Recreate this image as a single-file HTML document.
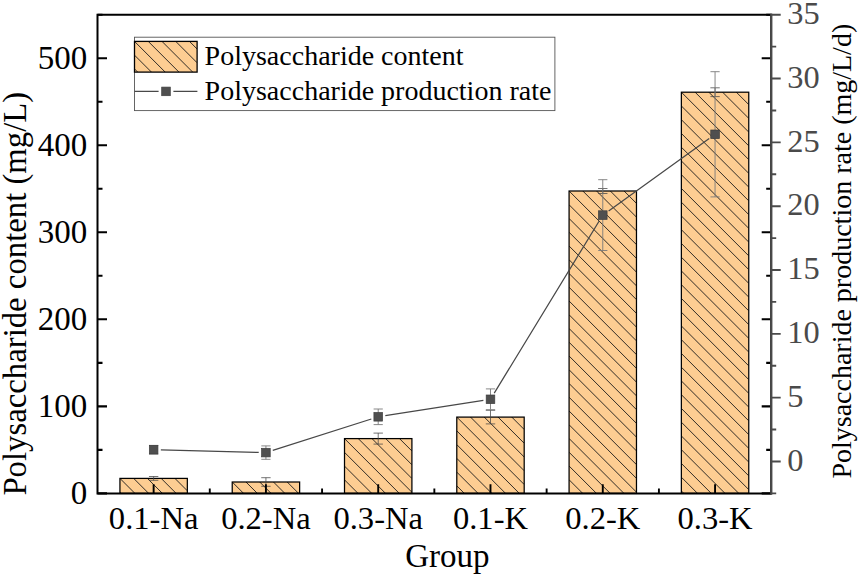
<!DOCTYPE html>
<html><head><meta charset="utf-8"><title>Chart</title>
<style>html,body{margin:0;padding:0;background:#fff;}body{width:860px;height:577px;overflow:hidden;font-family:"Liberation Serif",serif;}</style></head>
<body>
<svg width="860" height="577" viewBox="0 0 860 577" style="display:block;font-family:'Liberation Serif',serif">
<rect width="860" height="577" fill="#fff"/>
<defs>
<clipPath id="c0"><rect x="119.94" y="478.40" width="67.40" height="15.00"/></clipPath>
<clipPath id="c1"><rect x="232.23" y="482.00" width="67.40" height="11.40"/></clipPath>
<clipPath id="c2"><rect x="344.51" y="438.60" width="67.40" height="54.80"/></clipPath>
<clipPath id="c3"><rect x="456.79" y="417.10" width="67.40" height="76.30"/></clipPath>
<clipPath id="c4"><rect x="569.08" y="191.00" width="67.40" height="302.40"/></clipPath>
<clipPath id="c5"><rect x="681.36" y="92.20" width="67.40" height="401.20"/></clipPath>
<clipPath id="cl"><rect x="134.5" y="41.4" width="62.6" height="30.7"/></clipPath>
</defs>
<rect x="119.94" y="478.40" width="67.40" height="15.00" fill="#FDCD92"/>
<path d="M119.94 409.65L187.34 477.05M119.94 423.40L187.34 490.80M119.94 437.15L187.34 504.55M119.94 450.90L187.34 518.30M119.94 464.65L187.34 532.05M119.94 478.40L187.34 545.80M119.94 492.15L187.34 559.55M119.94 505.90L187.34 573.30" stroke="#1a1a1a" stroke-width="0.9" fill="none" clip-path="url(#c0)"/>
<rect x="119.94" y="478.40" width="67.40" height="15.00" fill="none" stroke="#000" stroke-width="1.25"/>
<rect x="232.23" y="482.00" width="67.40" height="11.40" fill="#FDCD92"/>
<path d="M232.23 413.25L299.62 480.65M232.23 427.00L299.62 494.40M232.23 440.75L299.62 508.15M232.23 454.50L299.62 521.90M232.23 468.25L299.62 535.65M232.23 482.00L299.62 549.40M232.23 495.75L299.62 563.15" stroke="#1a1a1a" stroke-width="0.9" fill="none" clip-path="url(#c1)"/>
<rect x="232.23" y="482.00" width="67.40" height="11.40" fill="none" stroke="#000" stroke-width="1.25"/>
<rect x="344.51" y="438.60" width="67.40" height="54.80" fill="#FDCD92"/>
<path d="M344.51 369.85L411.91 437.25M344.51 383.60L411.91 451.00M344.51 397.35L411.91 464.75M344.51 411.10L411.91 478.50M344.51 424.85L411.91 492.25M344.51 438.60L411.91 506.00M344.51 452.35L411.91 519.75M344.51 466.10L411.91 533.50M344.51 479.85L411.91 547.25M344.51 493.60L411.91 561.00" stroke="#1a1a1a" stroke-width="0.9" fill="none" clip-path="url(#c2)"/>
<rect x="344.51" y="438.60" width="67.40" height="54.80" fill="none" stroke="#000" stroke-width="1.25"/>
<rect x="456.79" y="417.10" width="67.40" height="76.30" fill="#FDCD92"/>
<path d="M456.79 348.35L524.19 415.75M456.79 362.10L524.19 429.50M456.79 375.85L524.19 443.25M456.79 389.60L524.19 457.00M456.79 403.35L524.19 470.75M456.79 417.10L524.19 484.50M456.79 430.85L524.19 498.25M456.79 444.60L524.19 512.00M456.79 458.35L524.19 525.75M456.79 472.10L524.19 539.50M456.79 485.85L524.19 553.25M456.79 499.60L524.19 567.00" stroke="#1a1a1a" stroke-width="0.9" fill="none" clip-path="url(#c3)"/>
<rect x="456.79" y="417.10" width="67.40" height="76.30" fill="none" stroke="#000" stroke-width="1.25"/>
<rect x="569.08" y="191.00" width="67.40" height="302.40" fill="#FDCD92"/>
<path d="M569.08 122.25L636.48 189.65M569.08 136.00L636.48 203.40M569.08 149.75L636.48 217.15M569.08 163.50L636.48 230.90M569.08 177.25L636.48 244.65M569.08 191.00L636.48 258.40M569.08 204.75L636.48 272.15M569.08 218.50L636.48 285.90M569.08 232.25L636.48 299.65M569.08 246.00L636.48 313.40M569.08 259.75L636.48 327.15M569.08 273.50L636.48 340.90M569.08 287.25L636.48 354.65M569.08 301.00L636.48 368.40M569.08 314.75L636.48 382.15M569.08 328.50L636.48 395.90M569.08 342.25L636.48 409.65M569.08 356.00L636.48 423.40M569.08 369.75L636.48 437.15M569.08 383.50L636.48 450.90M569.08 397.25L636.48 464.65M569.08 411.00L636.48 478.40M569.08 424.75L636.48 492.15M569.08 438.50L636.48 505.90M569.08 452.25L636.48 519.65M569.08 466.00L636.48 533.40M569.08 479.75L636.48 547.15M569.08 493.50L636.48 560.90" stroke="#1a1a1a" stroke-width="0.9" fill="none" clip-path="url(#c4)"/>
<rect x="569.08" y="191.00" width="67.40" height="302.40" fill="none" stroke="#000" stroke-width="1.25"/>
<rect x="681.36" y="92.20" width="67.40" height="401.20" fill="#FDCD92"/>
<path d="M681.36 23.45L748.76 90.85M681.36 37.20L748.76 104.60M681.36 50.95L748.76 118.35M681.36 64.70L748.76 132.10M681.36 78.45L748.76 145.85M681.36 92.20L748.76 159.60M681.36 105.95L748.76 173.35M681.36 119.70L748.76 187.10M681.36 133.45L748.76 200.85M681.36 147.20L748.76 214.60M681.36 160.95L748.76 228.35M681.36 174.70L748.76 242.10M681.36 188.45L748.76 255.85M681.36 202.20L748.76 269.60M681.36 215.95L748.76 283.35M681.36 229.70L748.76 297.10M681.36 243.45L748.76 310.85M681.36 257.20L748.76 324.60M681.36 270.95L748.76 338.35M681.36 284.70L748.76 352.10M681.36 298.45L748.76 365.85M681.36 312.20L748.76 379.60M681.36 325.95L748.76 393.35M681.36 339.70L748.76 407.10M681.36 353.45L748.76 420.85M681.36 367.20L748.76 434.60M681.36 380.95L748.76 448.35M681.36 394.70L748.76 462.10M681.36 408.45L748.76 475.85M681.36 422.20L748.76 489.60M681.36 435.95L748.76 503.35M681.36 449.70L748.76 517.10M681.36 463.45L748.76 530.85M681.36 477.20L748.76 544.60M681.36 490.95L748.76 558.35M681.36 504.70L748.76 572.10" stroke="#1a1a1a" stroke-width="0.9" fill="none" clip-path="url(#c5)"/>
<rect x="681.36" y="92.20" width="67.40" height="401.20" fill="none" stroke="#000" stroke-width="1.25"/>
<path d="M153.64 476.50V480.30M148.94 476.50h9.4M148.94 480.30h9.4" stroke="#444" stroke-width="0.75" fill="none"/>
<path d="M265.93 477.70V486.30M261.23 477.70h9.4M261.23 486.30h9.4" stroke="#444" stroke-width="0.75" fill="none"/>
<path d="M378.21 433.10V444.10M373.51 433.10h9.4M373.51 444.10h9.4" stroke="#444" stroke-width="0.75" fill="none"/>
<path d="M490.49 410.30V423.90M485.79 410.30h9.4M485.79 423.90h9.4" stroke="#444" stroke-width="0.75" fill="none"/>
<path d="M602.78 188.50V193.50M598.08 188.50h9.4M598.08 193.50h9.4" stroke="#444" stroke-width="0.75" fill="none"/>
<path d="M715.06 87.80V96.60M710.36 87.80h9.4M710.36 96.60h9.4" stroke="#444" stroke-width="0.75" fill="none"/>
<path d="M97.5 14.7H771.2M97.5 493.4H771.2M97.5 13.7V494.4M771.2 13.7V494.4" stroke="#000" stroke-width="2" fill="none"/>
<path d="M97.5 493.40h9.5M771.2 493.40h-9.5M97.5 449.88h5M771.2 449.88h-5M97.5 406.36h9.5M771.2 406.36h-9.5M97.5 362.84h5M771.2 362.84h-5M97.5 319.32h9.5M771.2 319.32h-9.5M97.5 275.80h5M771.2 275.80h-5M97.5 232.28h9.5M771.2 232.28h-9.5M97.5 188.76h5M771.2 188.76h-5M97.5 145.24h9.5M771.2 145.24h-9.5M97.5 101.72h5M771.2 101.72h-5M97.5 58.20h9.5M771.2 58.20h-9.5M97.5 14.68h5M771.2 14.68h-5" stroke="#000" stroke-width="2.1" fill="none"/>
<path d="M153.64 493.4v-9.2M265.93 493.4v-9.2M378.21 493.4v-9.2M490.49 493.4v-9.2M602.78 493.4v-9.2M715.06 493.4v-9.2M209.78 493.4v-5M322.07 493.4v-5M434.35 493.4v-5M546.63 493.4v-5M658.92 493.4v-5" stroke="#000" stroke-width="1.9" fill="none"/>
<path d="M771.2 13.7V494.4" stroke="#4a4a4a" stroke-width="2" fill="none"/>
<path d="M771.2 493.40h5M771.2 461.49h9.5M771.2 429.57h5M771.2 397.66h9.5M771.2 365.75h5M771.2 333.83h9.5M771.2 301.92h5M771.2 270.01h9.5M771.2 238.09h5M771.2 206.18h9.5M771.2 174.27h5M771.2 142.35h9.5M771.2 110.44h5M771.2 78.53h9.5M771.2 46.61h5M771.2 14.70h9.5" stroke="#4a4a4a" stroke-width="1.9" fill="none"/>
<path d="M153.64 445.40V454.00M149.04 445.40h9.2M149.04 454.00h9.2" stroke="#7a7a7a" stroke-width="0.9" fill="none"/>
<path d="M265.93 445.90V459.30M261.32 445.90h9.2M261.32 459.30h9.2" stroke="#7a7a7a" stroke-width="0.9" fill="none"/>
<path d="M378.21 409.00V424.60M373.61 409.00h9.2M373.61 424.60h9.2" stroke="#7a7a7a" stroke-width="0.9" fill="none"/>
<path d="M490.49 388.90V409.70M485.89 388.90h9.2M485.89 409.70h9.2" stroke="#7a7a7a" stroke-width="0.9" fill="none"/>
<path d="M602.78 179.70V250.50M598.18 179.70h9.2M598.18 250.50h9.2" stroke="#7a7a7a" stroke-width="0.9" fill="none"/>
<path d="M715.06 71.70V196.90M710.46 71.70h9.2M710.46 196.90h9.2" stroke="#7a7a7a" stroke-width="0.9" fill="none"/>
<path d="M160.84 449.89L258.73 452.41M272.78 450.41L371.35 418.99M385.32 415.69L483.38 400.41M494.24 393.15L599.03 221.25M608.62 210.89L709.21 138.51" stroke="#484848" stroke-width="1.25" fill="none"/>
<rect x="149.34" y="445.40" width="8.6" height="8.6" fill="#4f4f4f" stroke="#3e3e3e" stroke-width="0.7"/>
<rect x="261.62" y="448.30" width="8.6" height="8.6" fill="#4f4f4f" stroke="#3e3e3e" stroke-width="0.7"/>
<rect x="373.91" y="412.50" width="8.6" height="8.6" fill="#4f4f4f" stroke="#3e3e3e" stroke-width="0.7"/>
<rect x="486.19" y="395.00" width="8.6" height="8.6" fill="#4f4f4f" stroke="#3e3e3e" stroke-width="0.7"/>
<rect x="598.48" y="210.80" width="8.6" height="8.6" fill="#4f4f4f" stroke="#3e3e3e" stroke-width="0.7"/>
<rect x="710.76" y="130.00" width="8.6" height="8.6" fill="#4f4f4f" stroke="#3e3e3e" stroke-width="0.7"/>
<text x="87.2" y="504.20" font-size="33" text-anchor="end" fill="#000">0</text>
<text x="87.2" y="417.16" font-size="33" text-anchor="end" fill="#000">100</text>
<text x="87.2" y="330.12" font-size="33" text-anchor="end" fill="#000">200</text>
<text x="87.2" y="243.08" font-size="33" text-anchor="end" fill="#000">300</text>
<text x="87.2" y="156.04" font-size="33" text-anchor="end" fill="#000">400</text>
<text x="87.2" y="69.00" font-size="33" text-anchor="end" fill="#000">500</text>
<text x="787.2" y="470.69" font-size="32.4" fill="#4a4a4a">0</text>
<text x="787.2" y="406.86" font-size="32.4" fill="#4a4a4a">5</text>
<text x="787.2" y="343.03" font-size="32.4" fill="#4a4a4a">10</text>
<text x="787.2" y="279.21" font-size="32.4" fill="#4a4a4a">15</text>
<text x="787.2" y="215.38" font-size="32.4" fill="#4a4a4a">20</text>
<text x="787.2" y="151.55" font-size="32.4" fill="#4a4a4a">25</text>
<text x="787.2" y="87.73" font-size="32.4" fill="#4a4a4a">30</text>
<text x="787.2" y="23.90" font-size="32.4" fill="#4a4a4a">35</text>
<text x="153.64" y="529.2" font-size="32.6" text-anchor="middle" fill="#000">0.1-Na</text>
<text x="265.93" y="529.2" font-size="32.6" text-anchor="middle" fill="#000">0.2-Na</text>
<text x="378.21" y="529.2" font-size="32.6" text-anchor="middle" fill="#000">0.3-Na</text>
<text x="490.49" y="529.2" font-size="32.6" text-anchor="middle" fill="#000">0.1-K</text>
<text x="602.78" y="529.2" font-size="32.6" text-anchor="middle" fill="#000">0.2-K</text>
<text x="715.06" y="529.2" font-size="32.6" text-anchor="middle" fill="#000">0.3-K</text>
<text x="447.3" y="566.9" font-size="33" text-anchor="middle" fill="#000">Group</text>
<text transform="translate(26.4 293.7) rotate(-90)" font-size="32.75" text-anchor="middle" fill="#000">Polysaccharide content (mg/L)</text>
<text transform="translate(851.2 251.2) rotate(-90)" font-size="28" text-anchor="middle" fill="#000">Polysaccharide production rate (mg/L/d)</text>
<rect x="134.5" y="37.2" width="420.4" height="73.4" fill="#fff" stroke="#555" stroke-width="0.9"/>
<rect x="134.5" y="41.4" width="62.6" height="30.7" fill="#FDCD92"/>
<path d="M134.50 -27.35L197.10 35.25M134.50 -13.60L197.10 49.00M134.50 0.15L197.10 62.75M134.50 13.90L197.10 76.50M134.50 27.65L197.10 90.25M134.50 41.40L197.10 104.00M134.50 55.15L197.10 117.75M134.50 68.90L197.10 131.50M134.50 82.65L197.10 145.25" stroke="#1a1a1a" stroke-width="0.9" fill="none" clip-path="url(#cl)"/>
<rect x="134.5" y="41.4" width="62.6" height="30.7" fill="none" stroke="#000" stroke-width="1.3"/>
<path d="M134.5 91.4H158.6M173.4 91.4H197.4" stroke="#484848" stroke-width="1.25" fill="none"/>
<rect x="161.7" y="87.10000000000001" width="8.6" height="8.6" fill="#4f4f4f" stroke="#3e3e3e" stroke-width="0.7"/>
<text x="204.6" y="64.5" font-size="28" fill="#000">Polysaccharide content</text>
<text x="204.6" y="99.8" font-size="28" fill="#000">Polysaccharide production rate</text>
</svg>
</body></html>
